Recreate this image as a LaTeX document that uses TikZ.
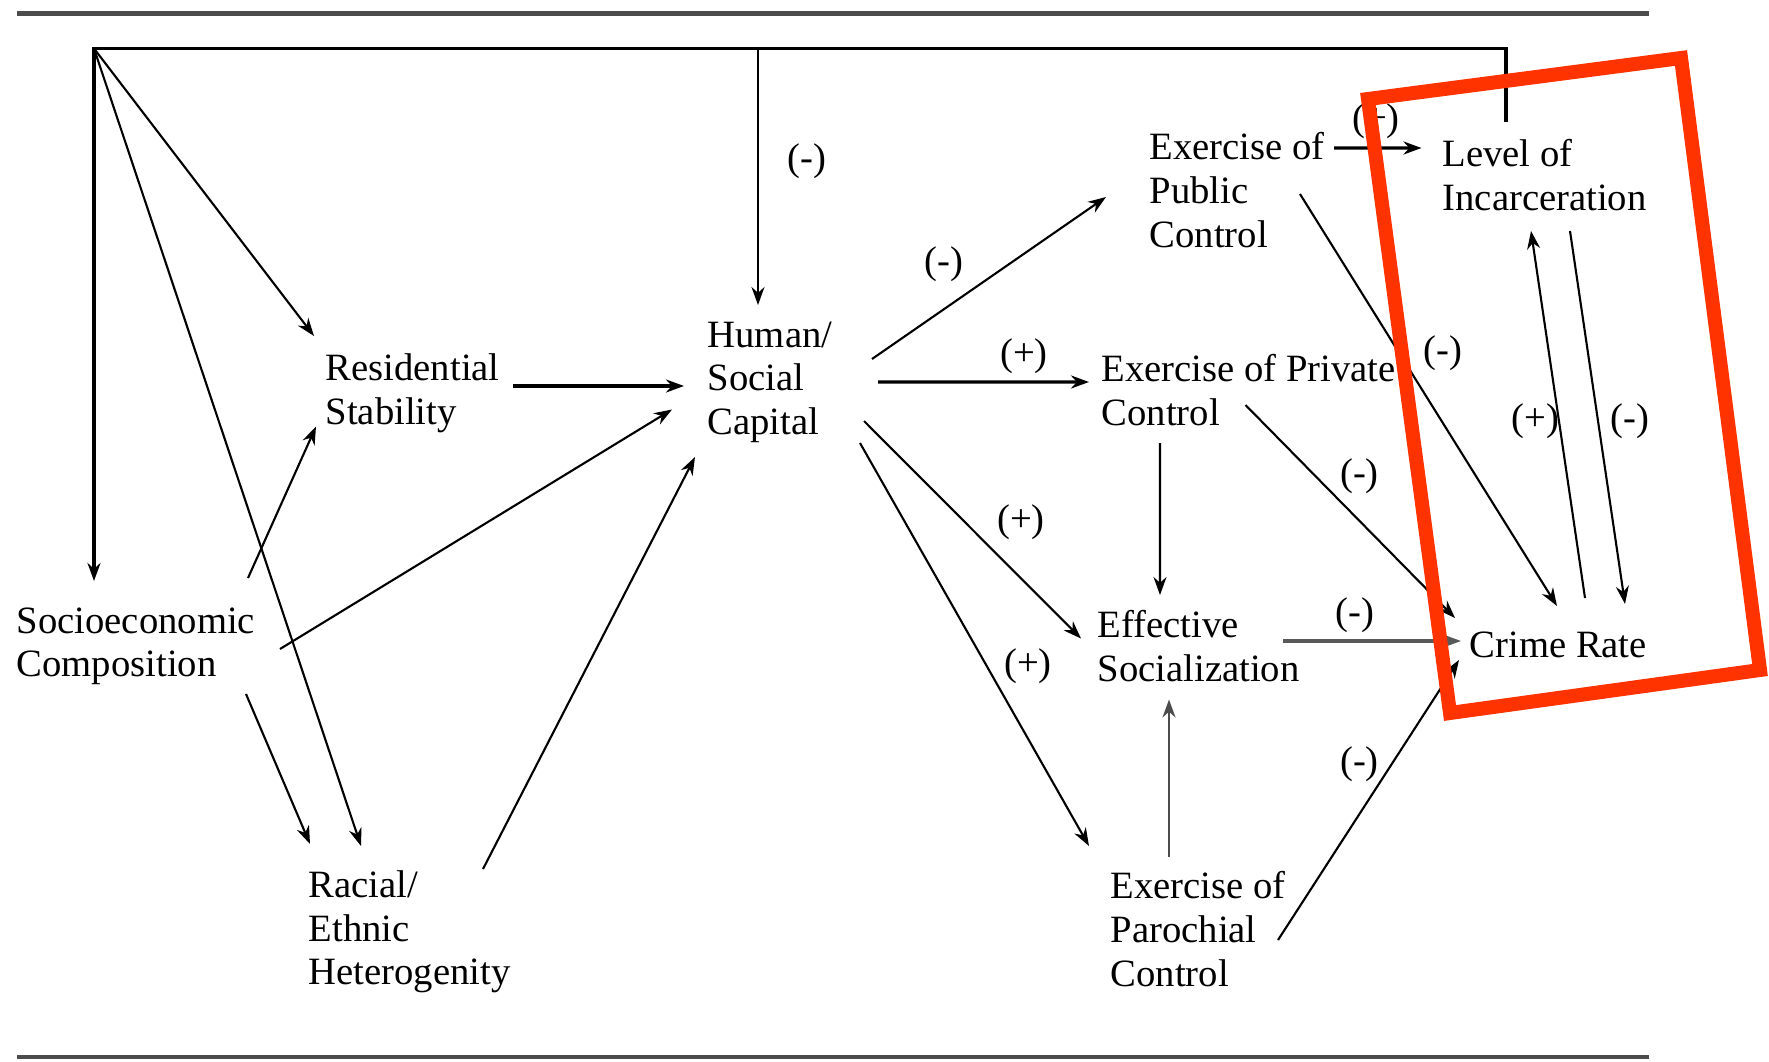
\documentclass[tikz,border=0pt]{standalone}
\usepackage{fontspec}
\setmainfont{Liberation Serif}
\usetikzlibrary{arrows.meta}
\definecolor{markred}{RGB}{255,51,0}

\begin{document}
\begin{tikzpicture}[
    var/.style={anchor=north west, inner sep=0pt, align=left, font=\fontsize{11}{12.4}\selectfont},
    effect/.style={inner sep=0pt, font=\fontsize{11}{12.4}\selectfont},
    arrow/.style={line width=0.6pt,-{Stealth[length=1.8mm,width=1.3mm]}},
    rule/.style={line width=1.3pt, black!70}
]
\useasboundingbox (0,0) rectangle (17.69,-10.62);

% Page rules
\draw[rule] (0.17,-0.135) -- (16.49,-0.135);
\draw[rule] (0.17,-10.57) -- (16.49,-10.57);

% Structural variables
\node[var] (SES) at (0.16,-6.07) {Socioeconomic\\Composition};
\node[var] (RES) at (3.25,-3.53) {Residential\\Stability};
\node[var] (RAC) at (3.08,-8.70) {Racial/\\Ethnic\\Heterogenity};

% Capital
\node[var] (HSC) at (7.07,-3.21) {Human/\\Social\\Capital};

% Control
\node[var] (PUB) at (11.49,-1.32) {Exercise of\\Public\\Control};
\node[var] (PRI) at (11.01,-3.54) {Exercise of Private\\Control};
\node[var] (EFF) at (10.97,-6.10) {Effective\\Socialization};
\node[var] (PAR) at (11.10,-8.71) {Exercise of\\Parochial\\Control};

% Outcomes
\node[var] (LEV) at (14.42,-1.39) {Level of\\Incarceration};
\node[var] (CRI) at (14.69,-6.31) {Crime Rate};

% Feedback from incarceration
\coordinate (hub) at (0.94,-0.485);
\coordinate (hscIn) at ([shift={(0.51,0.16)}]HSC.north west);
\draw[arrow, line width=1pt] ([shift={(0.64,0.17)}]LEV.north west) |- (hub) -- ([shift={(0.78,0.26)}]SES.north west);
\draw[arrow] (hscIn |- hub) -- (hscIn);
\draw[arrow] (hub) -- ([shift={(-0.11,0.17)}]RES.north west);
\draw[arrow] (hub) -- ([shift={(0.53,0.24)}]RAC.north west);

% Structural arrows
\draw[arrow] ([shift={(2.32,0.29)}]SES.north west) -- ([shift={(-0.09,-0.735)}]RES.north west);
\draw[arrow] ([shift={(2.64,-0.42)}]SES.north west) -- ([shift={(-0.35,-0.885)}]HSC.north west);
\draw[arrow] ([shift={(2.30,-0.87)}]SES.north west) -- ([shift={(0.02,0.26)}]RAC.north west);
\draw[arrow, line width=0.9pt] ([shift={(1.88,-0.33)}]RES.north west) -- ([shift={(-0.23,-0.65)}]HSC.north west);
\draw[arrow] ([shift={(1.75,0.01)}]RAC.north west) -- ([shift={(-0.12,-1.36)}]HSC.north west);

% Capital to control
\draw[arrow] ([shift={(1.65,-0.38)}]HSC.north west) -- ([shift={(-0.43,-0.65)}]PUB.north west);
\draw[arrow, line width=0.9pt] ([shift={(1.71,-0.61)}]HSC.north west) -- ([shift={(-0.12,-0.28)}]PRI.north west);
\draw[arrow] ([shift={(1.57,-1.00)}]HSC.north west) -- ([shift={(-0.16,-0.285)}]EFF.north west);
\draw[arrow] ([shift={(1.53,-1.22)}]HSC.north west) -- ([shift={(-0.21,0.25)}]PAR.north west);

% Control to outcomes
\draw[arrow, line width=0.9pt] ([shift={(1.85,-0.16)}]PUB.north west) -- ([shift={(-0.205,-0.09)}]LEV.north west);
\draw[arrow] ([shift={(1.51,-0.62)}]PUB.north west) -- ([shift={(0.88,0.25)}]CRI.north west);
\draw[arrow] ([shift={(0.59,-0.89)}]PRI.north west) -- ([shift={(0.63,0.15)}]EFF.north west);
\draw[arrow] ([shift={(1.445,-0.51)}]PRI.north west) -- ([shift={(-0.14,0.13)}]CRI.north west);
\draw[arrow, line width=0.9pt, black!65] ([shift={(1.86,-0.31)}]EFF.north west) -- ([shift={(-0.08,-0.10)}]CRI.north west);
\draw[arrow, black!70] ([shift={(0.59,0.14)}]PAR.north west) -- ([shift={(0.72,-0.895)}]EFF.north west);
\draw[arrow] ([shift={(1.68,-0.69)}]PAR.north west) -- ([shift={(-0.10,-0.29)}]CRI.north west);
\draw[arrow] ([shift={(1.16,0.33)}]CRI.north west) -- ([shift={(0.89,-0.92)}]LEV.north west);
\draw[arrow] ([shift={(1.28,-0.92)}]LEV.north west) -- ([shift={(1.56,0.27)}]CRI.north west);

% Signs
\node[effect] (s1) at (8.07,-1.61) {(-)};
\node[effect] (s2) at (9.44,-2.64) {(-)};
\node[effect] (s3) at (10.24,-3.565) {(+)};
\node[effect] (s4) at (10.21,-5.22) {(+)};
\node[effect] (s5) at (10.28,-6.66) {(+)};
\node[effect] (s6) at (13.76,-1.21) {(+)};
\node[effect] (s7) at (14.43,-3.53) {(-)};
\node[effect] (s8) at (13.595,-4.76) {(-)};
\node[effect] (s9) at (13.55,-6.15) {(-)};
\node[effect] (s10) at (13.595,-7.64) {(-)};
\node[effect] (s11) at (15.355,-4.21) {(+)};
\node[effect] (s12) at (16.30,-4.21) {(-)};

% Highlight box
\draw[markred, line width=0.14cm] (13.68,-0.99) -- (16.81,-0.58) -- (17.60,-6.70) -- (14.50,-7.13) -- cycle;

\end{tikzpicture}
\end{document}
